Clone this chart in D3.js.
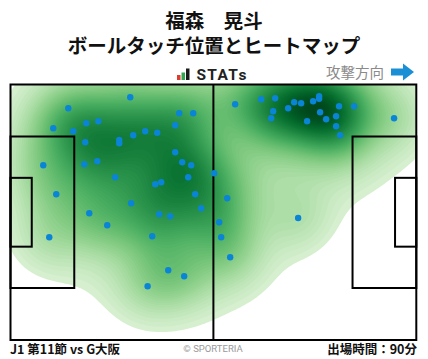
<!DOCTYPE html>
<html>
<head>
<meta charset="utf-8">
<script src="https://cdn.jsdelivr.net/npm/d3@7"></script>
<style>
  html, body { margin: 0; padding: 0; background: #fff; }
  svg { display: block; font-family: "Noto Sans CJK JP", "Noto Sans", sans-serif; }
</style>
</head>
<body>
<svg id="chart" width="428" height="359"></svg>
<script>
// ---- Data (pitch metres, 105 x 68, attacking left -> right) ----
const touchX = [30.98,14.95,11.07,16.24,19.60,22.71,19.34,28.14,28.14,31.76,34.86,37.96,8.48,19.09,22.45,27.10,11.84,31.24,20.38,
  43.65,47.27,42.62,42.62,44.43,46.76,45.98,37.45,39.00,47.79,49.34,38.48,41.32,52.70,56.07,
  58.13,64.86,68.48,67.96,67.44,71.84,73.39,75.20,78.30,79.86,79.86,80.11,76.75,81.67,84.25,85.03,88.91,84.25,85.29,99.25,
  10.03,25.03,35.48,36.67,40.81,44.94,54.00,54.51,56.84,74.43];
const touchY = [3.41,6.33,11.66,12.46,10.33,9.79,15.38,14.77,15.65,13.52,12.46,12.83,21.50,21.24,20.44,24.70,29.22,31.62,34.28,
  7.66,7.66,10.86,18.04,20.71,21.50,24.70,26.56,26.03,29.22,32.95,34.54,35.08,23.63,30.29,
  5.27,3.94,3.67,7.13,9.00,6.33,4.74,5.00,4.47,3.14,3.78,7.40,9.79,9.26,8.46,5.80,5.80,11.12,13.52,9.00,
  40.67,37.47,53.71,40.40,49.45,51.05,36.67,40.67,45.99,35.53];
const pitchLength = 105, pitchWidth = 68;
const titleLines = ["福森　晃斗", "ボールタッチ位置とヒートマップ"];
const matchLabel = "J1 第11節 vs G大阪";
const minutesLabel = "出場時間：90分";
const directionLabel = "攻撃方向";
const creditLabel = "© SPORTERIA";

const touches = touchX.map((x, i) => ({x, y: touchY[i]}));

const svg = d3.select("#chart");
const P = {left: 10.5, top: 84.5, right: 416.3, bottom: 340};
const x = d3.scaleLinear().domain([0, pitchLength]).range([P.left, P.right]);
const y = d3.scaleLinear().domain([0, pitchWidth]).range([P.top, P.bottom]);
const pw = P.right - P.left, ph = P.bottom - P.top;

// Titles (one text, two lines)
svg.append("text")
  .attr("text-anchor", "middle")
  .attr("font-size", 19.5).attr("font-weight", "bold").attr("fill", "#111")
  .selectAll("tspan").data(titleLines).join("tspan")
  .attr("x", 214).attr("y", (d, i) => 27.5 + i * 25.5)
  .text(d => d);

// STATs logo
const logo = svg.append("g");
logo.append("rect").attr("x", 177).attr("y", 75).attr("width", 3.5).attr("height", 5).attr("fill", "#e23a2e");
logo.append("rect").attr("x", 181.5).attr("y", 72.5).attr("width", 3.5).attr("height", 7.5).attr("fill", "#2fa84f");
logo.append("rect").attr("x", 186).attr("y", 68.5).attr("width", 3.5).attr("height", 11.5).attr("fill", "#1a1a1a");
logo.append("text").attr("x", 196.5).attr("y", 80).attr("font-size", 15.5).attr("font-weight", "bold")
  .attr("font-family", "Roboto, 'DejaVu Sans', sans-serif").attr("letter-spacing", 1.3)
  .attr("fill", "#222").text("STATs");

// Attack direction
svg.append("text").attr("x", 384).attr("y", 78).attr("text-anchor", "end")
  .attr("font-size", 14.5).attr("fill", "#8a8a8a").text(directionLabel);
svg.append("path")
  .attr("d", "M391,68.5 H403 V63.5 L414,72 L403,80.5 V75.5 H391 Z")
  .attr("fill", "#1a8fd6");

// Heatmap: Gaussian KDE (narrow + broad kernel) on a grid, drawn as filled contours
const defs = svg.append("defs");
defs.append("clipPath").attr("id", "pitchClip")
  .append("rect").attr("x", P.left).attr("y", P.top).attr("width", pw).attr("height", ph);

const cell = 2, bwN = 23, bwB = 50, wB = 0.17;
const nx = Math.ceil(pw / cell) + 1, ny = Math.ceil(ph / cell) + 1;
const pts = touches.map(d => [x(d.x) - P.left, y(d.y) - P.top]);
const grid = new Float64Array(nx * ny);
for (let j = 0; j < ny; j++) {
  for (let i = 0; i < nx; i++) {
    const gx = i * cell, gy = j * cell;
    let s = 0;
    for (const [px, py] of pts) {
      const d2 = (gx - px) ** 2 + (gy - py) ** 2;
      s += Math.exp(-d2 / (2 * bwN * bwN)) + wB * Math.exp(-d2 / (2 * bwB * bwB));
    }
    grid[j * nx + i] = s;
  }
}
const maxVal = d3.max(grid);
const nLevels = 70;
const thresholds = d3.range(nLevels).map(i => maxVal * (0.045 + 0.955 * i / nLevels));
const levels = d3.contours().size([nx, ny]).thresholds(thresholds)(Array.from(grid));
const color = t => d3.interpolateGreens(0.04 + 0.96 * Math.pow(t / maxVal, 0.6));
const proj = d3.geoIdentity().scale(cell).translate([-cell / 2, -cell / 2]);

svg.append("g").attr("clip-path", "url(#pitchClip)")
  .append("g").attr("transform", `translate(${P.left},${P.top})`)
  .selectAll("path").data(levels).join("path")
  .attr("d", d3.geoPath(proj))
  .attr("fill", d => color(d.value));

// Pitch lines
const lines = svg.append("g").attr("fill", "none").attr("stroke", "#000").attr("stroke-width", 2);
lines.append("rect").attr("x", P.left).attr("y", P.top).attr("width", pw).attr("height", ph);
lines.append("line").attr("x1", x(pitchLength / 2)).attr("x2", x(pitchLength / 2)).attr("y1", P.top).attr("y2", P.bottom);
const boxDepth = 16.5, boxWidth = 40.32, gaDepth = 5.5, gaWidth = 18.32;
const cy = pitchWidth / 2;
const bh = y(cy + boxWidth / 2) - y(cy - boxWidth / 2), gh = y(cy + gaWidth / 2) - y(cy - gaWidth / 2);
lines.append("rect").attr("x", x(0)).attr("y", y(cy - boxWidth / 2)).attr("width", x(boxDepth) - x(0)).attr("height", bh);
lines.append("rect").attr("x", x(pitchLength - boxDepth)).attr("y", y(cy - boxWidth / 2)).attr("width", x(boxDepth) - x(0)).attr("height", bh);
lines.append("rect").attr("x", x(0)).attr("y", y(cy - gaWidth / 2)).attr("width", x(gaDepth) - x(0)).attr("height", gh);
lines.append("rect").attr("x", x(pitchLength - gaDepth)).attr("y", y(cy - gaWidth / 2)).attr("width", x(gaDepth) - x(0)).attr("height", gh);

// Touch points
svg.append("g").selectAll("circle").data(touches).join("circle")
  .attr("cx", d => x(d.x)).attr("cy", d => y(d.y)).attr("r", 3.2)
  .attr("fill", "#0a84d6");

// Footer
svg.append("text").attr("x", 10).attr("y", 354).attr("font-size", 12.5).attr("font-weight", "bold").attr("fill", "#111").text(matchLabel);
svg.append("text").attr("x", 417).attr("y", 354).attr("text-anchor", "end").attr("font-size", 12.5).attr("font-weight", "bold").attr("fill", "#111").text(minutesLabel);
svg.append("text").attr("x", 213).attr("y", 352).attr("text-anchor", "middle").attr("font-size", 9.5).attr("fill", "#999")
  .attr("font-family", "Roboto, 'DejaVu Sans', sans-serif").text(creditLabel);
</script>
</body>
</html>
